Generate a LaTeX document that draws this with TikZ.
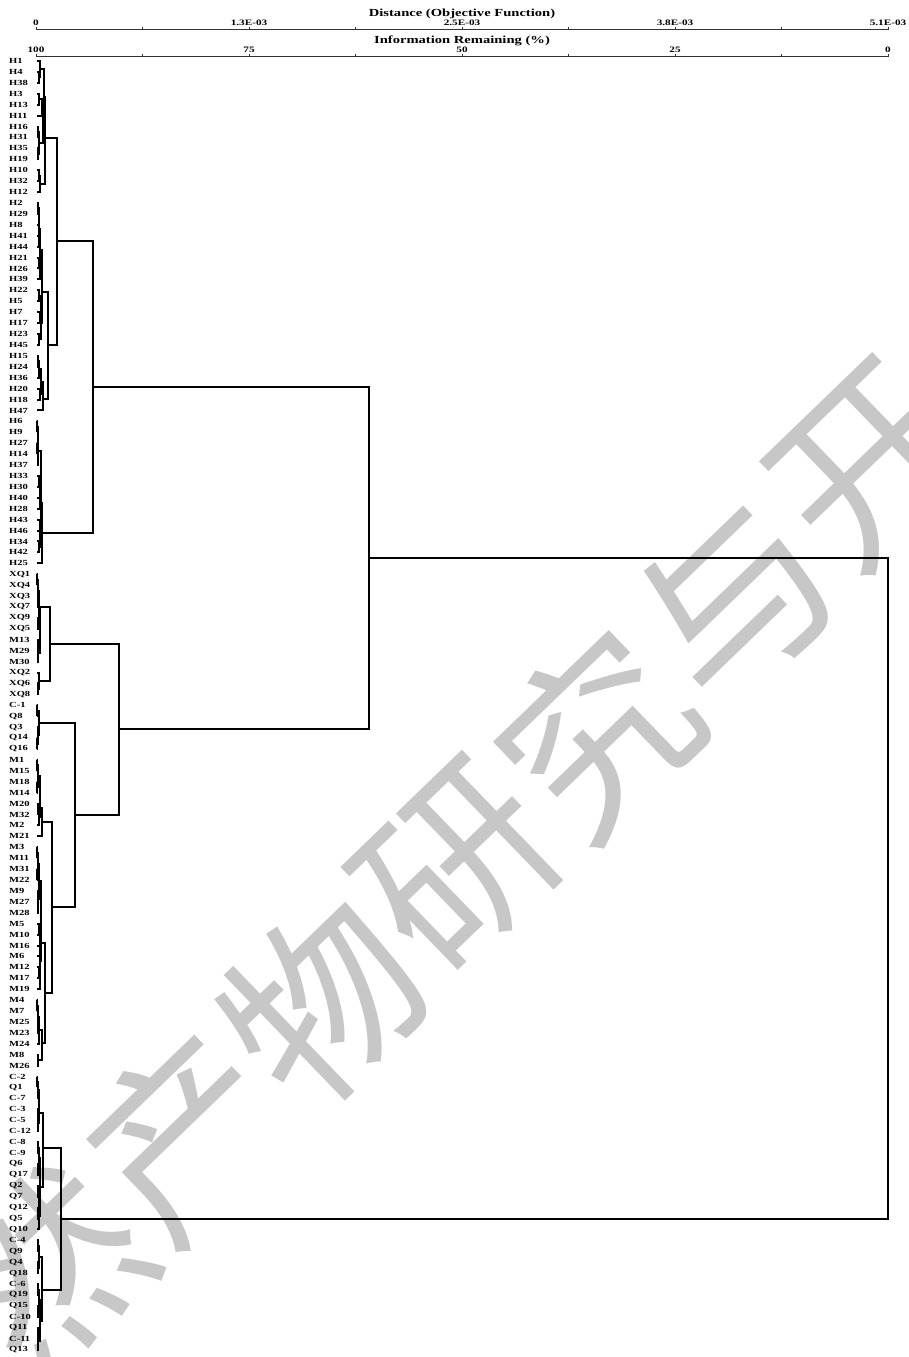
\documentclass[tikz,border=0pt]{standalone}
\usepackage{fontspec}
\usepackage{graphicx}
\setmainfont{Liberation Serif}
\newfontfamily\wmfont{Noto Sans CJK SC}
\usetikzlibrary{calc}
\newcommand{\wide}[1]{\scalebox{1.35}[1]{#1}}
\newcommand{\mg}[4]{\path let \p1=(#3), \p2=(#4) in coordinate (#1) at (#2pt,{0.5*\y1+0.5*\y2}); \draw[link] (#3) -| (#1) |- (#4);}
\newcommand{\mgy}[5]{\coordinate (#1) at (#2,#3); \draw[link] (#4) -| (#1) |- (#5);}
\begin{document}
\begin{tikzpicture}[x=1pt,y=-1pt,
  link/.style={line width=2pt,line join=miter},
  leaf/.style={anchor=west,inner sep=0pt,font=\bfseries\fontsize{7.8}{8}\selectfont},
  tlab/.style={inner sep=0pt,font=\bfseries\fontsize{8.3}{9}\selectfont},
  ttl/.style={inner sep=0pt,font=\bfseries\fontsize{10.8}{12}\selectfont},
  axisline/.style={line width=0.9pt,black!80},
  wm/.style={inner sep=0pt,text=black!22,font=\wmfont\fontsize{190}{190}\selectfont,rotate=44}]
\useasboundingbox (0,0) rectangle (908,1357);
\fill[white] (0,0) rectangle (908,1357);
\begin{scope}
\clip (0,0) rectangle (908,1357);
\foreach \c [count=\k from 0] in {天,然,产,物,研,究,与,开,发}
  \node[wm] (wm\k) at ({185+137.5*(\k-2)},{1135-133.75*(\k-2)}) {\c};
\end{scope}
% axes
\draw[axisline] (36,29.5) -- (888,29.5);
\draw[axisline] (36,56.5) -- (888,56.5);
\foreach \t in {0,...,8} {
  \draw[axisline] ({36+106.5*\t},26.5) -- ++(0,3);
  \draw[axisline] ({36+106.5*\t},53.5) -- ++(0,3);
}
\foreach \t/\s in {0/0,2/1.3E-03,4/2.5E-03,6/3.8E-03,8/5.1E-03}
  \node[tlab] (tl\t) at ({36+106.5*\t},23) {\wide{\s}};
\foreach \t/\s in {0/100,2/75,4/50,6/25,8/0}
  \node[tlab] (il\t) at ({36+106.5*\t},49.5) {\wide{\s}};
\node[ttl] (t1) at (462,14) {\wide{Distance (Objective Function)}};
\node[ttl] (t2) at (462,41) {\wide{Information Remaining (\%)}};
% leaves
\foreach \lab [count=\i from 0] in {H1,H4,H38,H3,H13,H11,H16,H31,H35,H19,H10,H32,H12,H2,H29,H8,H41,H44,H21,H26,H39,H22,H5,H7,H17,H23,H45,H15,H24,H36,H20,H18,H47,H6,H9,H27,H14,H37,H33,H30,H40,H28,H43,H46,H34,H42,H25,XQ1,XQ4,XQ3,XQ7,XQ9,XQ5,M13,M29,M30,XQ2,XQ6,XQ8,C-1,Q8,Q3,Q14,Q16,M1,M15,M18,M14,M20,M32,M2,M21,M3,M11,M31,M22,M9,M27,M28,M5,M10,M16,M6,M12,M17,M19,M4,M7,M25,M23,M24,M8,M26,C-2,Q1,C-7,C-3,C-5,C-12,C-8,C-9,Q6,Q17,Q2,Q7,Q12,Q5,Q10,C-4,Q9,Q4,Q18,C-6,Q19,Q15,C-10,Q11,C-11,Q13} {
  \node[leaf] (n\i) at (9,{61+10.92*\i}) {\wide{\lab}};
  \coordinate (l\i) at (37,{61+10.92*\i});
}
% H cluster
\mg{a1}{38.5}{l1}{l2}
\mg{a2}{40}{l0}{a1}
\mg{b1}{39}{l3}{l4}
\mg{b2}{42}{b1}{l5}
\mg{c1}{38}{l6}{l7}
\mg{c2}{38}{l8}{l9}
\mg{c3}{39}{c1}{c2}
\mg{b3}{43}{b2}{c3}
\mg{P}{44}{a2}{b3}
\mg{d1}{38.5}{l10}{l11}
\mg{Q}{40}{d1}{l12}
\mgy{H012}{45}{138}{P}{Q}
\mg{e1}{38}{l13}{l14}
\mg{e2}{38.5}{e1}{l15}
\mg{e3}{38.5}{l16}{l17}
\mg{e4}{39}{e2}{e3}
\mg{f1}{39}{l18}{l19}
\mg{f2}{39.5}{f1}{l20}
\mg{e5}{40}{e4}{f2}
\mg{g1}{39}{l21}{l22}
\mg{g2}{40}{l23}{l24}
\mg{g3}{40.5}{g1}{g2}
\mg{g4}{38.5}{l25}{l26}
\mg{g5}{41}{g3}{g4}
\mgy{H1326}{42}{292}{e5}{g5}
\mg{h1}{38}{l27}{l28}
\mg{h2}{39}{h1}{l29}
\mg{h3}{40}{l30}{l31}
\mg{h4}{41}{h2}{h3}
\mgy{H2732}{43}{399}{h4}{l32}
\mgy{H1332}{48}{345}{H1326}{H2732}
\mgy{Ha}{57}{241}{H012}{H1332}
\mg{i1}{37.3}{l33}{l34}
\mg{i2}{37.3}{l35}{l36}
\mg{i3}{37.6}{i1}{i2}
\mg{i4}{38}{i3}{l37}
\mg{j1}{39}{l38}{l39}
\mg{j2}{39.5}{l40}{l41}
\mg{j3}{40}{j1}{j2}
\mg{j4}{39.5}{l42}{l43}
\mg{j5}{39}{l44}{l45}
\mg{j6}{40}{j4}{j5}
\mg{j7}{40.5}{j3}{j6}
\mgy{k1}{41}{503}{i4}{j7}
\mgy{Hb}{42}{533}{k1}{l46}
\mgy{H}{93}{387}{Ha}{Hb}
% XQ / M / Q cluster
\mg{x1}{37.3}{l47}{l48}
\mg{x2}{37.5}{l49}{l50}
\mg{x3}{38}{x1}{x2}
\mg{x4}{37.5}{l51}{l52}
\mg{x5}{38.5}{x3}{x4}
\mg{x6}{37.5}{l53}{l54}
\mg{x7}{38}{x6}{l55}
\mgy{X1}{39.5}{607}{x5}{x7}
\mg{x8}{37.5}{l57}{l58}
\mg{X2}{38.5}{l56}{x8}
\mgy{X}{50}{644}{X1}{X2}
\mg{y1}{37.3}{l59}{l60}
\mg{y2}{37.3}{l62}{l63}
\mg{y3}{37.8}{l61}{y2}
\mgy{Y1}{38.5}{723}{y1}{y3}
\mg{m1}{37.3}{l64}{l65}
\mg{m2}{37.3}{l66}{l67}
\mg{m3}{37.8}{m1}{m2}
\mg{m4}{38}{l68}{l69}
\mg{m5}{38.5}{m4}{l70}
\mgy{m6}{39.5}{808}{m3}{m5}
\mgy{Y2a}{42}{822}{m6}{l71}
\mg{u1}{37.3}{l72}{l73}
\mg{u2}{37.3}{l74}{l75}
\mg{u3}{37.6}{u1}{u2}
\mg{u4}{37.5}{l77}{l78}
\mg{u5}{38}{l76}{u4}
\mg{U}{38.5}{u3}{u5}
\mg{v1}{39}{l79}{l80}
\mg{v2}{39.5}{l81}{l82}
\mg{v3}{40}{v1}{v2}
\mg{v4}{39}{l83}{l84}
\mg{v5}{39.5}{v4}{l85}
\mg{V}{40.3}{v3}{v5}
\mgy{Y2b1}{41}{943}{U}{V}
\mg{w1}{37.3}{l86}{l87}
\mg{w2}{37.5}{l88}{l89}
\mg{w3}{38}{w1}{w2}
\mg{w4}{38.5}{w3}{l90}
\mg{z1}{37.5}{l91}{l92}
\mgy{Y2b2}{42}{1043}{w4}{z1}
\mgy{Y2b}{45}{993}{Y2b1}{Y2b2}
\mgy{Y2}{52}{907}{Y2a}{Y2b}
\mgy{Y}{75}{815}{Y1}{Y2}
\mgy{A2}{119}{729}{X}{Y}
\mgy{A}{369}{558}{H}{A2}
% C / Q cluster
\mg{p1}{37.3}{l93}{l94}
\mg{p2}{37.6}{p1}{l95}
\mg{p3}{37.5}{l96}{l97}
\mg{p4}{38}{p3}{l98}
\mgy{B1a}{39}{1113}{p2}{p4}
\mg{q1}{37.5}{l99}{l100}
\mg{q2}{37.5}{l101}{l102}
\mg{q3}{38.5}{q1}{q2}
\mg{q4}{37.5}{l103}{l104}
\mg{q5}{38}{l105}{l106}
\mg{q6}{38.5}{q4}{q5}
\mg{q7}{39}{q6}{l107}
\mg{B1b}{40}{q3}{q7}
\mgy{B1}{43}{1148}{B1a}{B1b}
\mg{r1}{37.5}{l108}{l109}
\mg{r2}{37.5}{l110}{l111}
\mg{B2a}{39}{r1}{r2}
\mg{s1}{37.5}{l112}{l113}
\mg{s2}{37.5}{l114}{l115}
\mg{s3}{38.5}{s1}{s2}
\mg{s4}{37.5}{l116}{l117}
\mg{s5}{38}{s4}{l118}
\mg{B2b}{40}{s3}{s5}
\mgy{B2}{42}{1290}{B2a}{B2b}
\mgy{B}{61}{1219}{B1}{B2}
\mg{R}{888}{A}{B}
\end{tikzpicture}
\end{document}
